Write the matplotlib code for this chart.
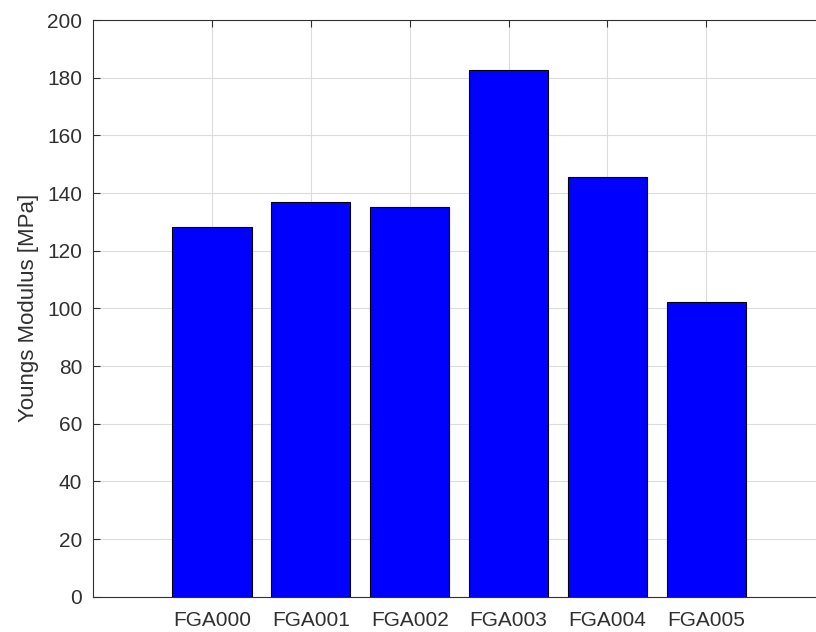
import matplotlib
matplotlib.use("Agg")
import matplotlib.pyplot as plt
import numpy as np

categories = ["FGA000", "FGA001", "FGA002", "FGA003", "FGA004", "FGA005"]
values = [128.2, 136.9, 135.2, 182.6, 145.6, 102.3]
yticks = [0, 20, 40, 60, 80, 100, 120, 140, 160, 180, 200]

plt.rcParams['font.family'] = ['Liberation Sans', 'DejaVu Sans']
W, H = 816, 632
fig = plt.figure(figsize=(W / 100, H / 100), dpi=100)
left, right, top, bottom = 93.3, 825.0, 20.0, 596.7
ax = fig.add_axes([left / W, 1 - bottom / H, (right - left) / W, (bottom - top) / H])

x = np.arange(1, len(categories) + 1)
ax.bar(x, values, width=0.8, color=(0, 0, 1), edgecolor='black', linewidth=0.8, zorder=3)

ax.set_xlim(-0.2, 7.2)
ax.set_ylim(0, 200)
ax.set_yticks(yticks)
ax.set_xticks(x)
ax.set_xticklabels(categories)
txtc = '#303030'
ax.tick_params(axis='both', direction='in', length=5, width=0.8, colors=txtc,
               labelsize=15, top=True, right=True)
ax.tick_params(axis='y', pad=8)
ax.tick_params(axis='x', pad=10)
ax.grid(True, color='#dcdcdc', linewidth=0.8, zorder=0)
ax.set_axisbelow(True)
for s in ax.spines.values():
    s.set_color(txtc)
    s.set_linewidth(0.8)
ax.set_ylabel("Youngs Modulus [MPa]", fontsize=16, color=txtc, labelpad=6)

fig.savefig("out.png", dpi=100)
